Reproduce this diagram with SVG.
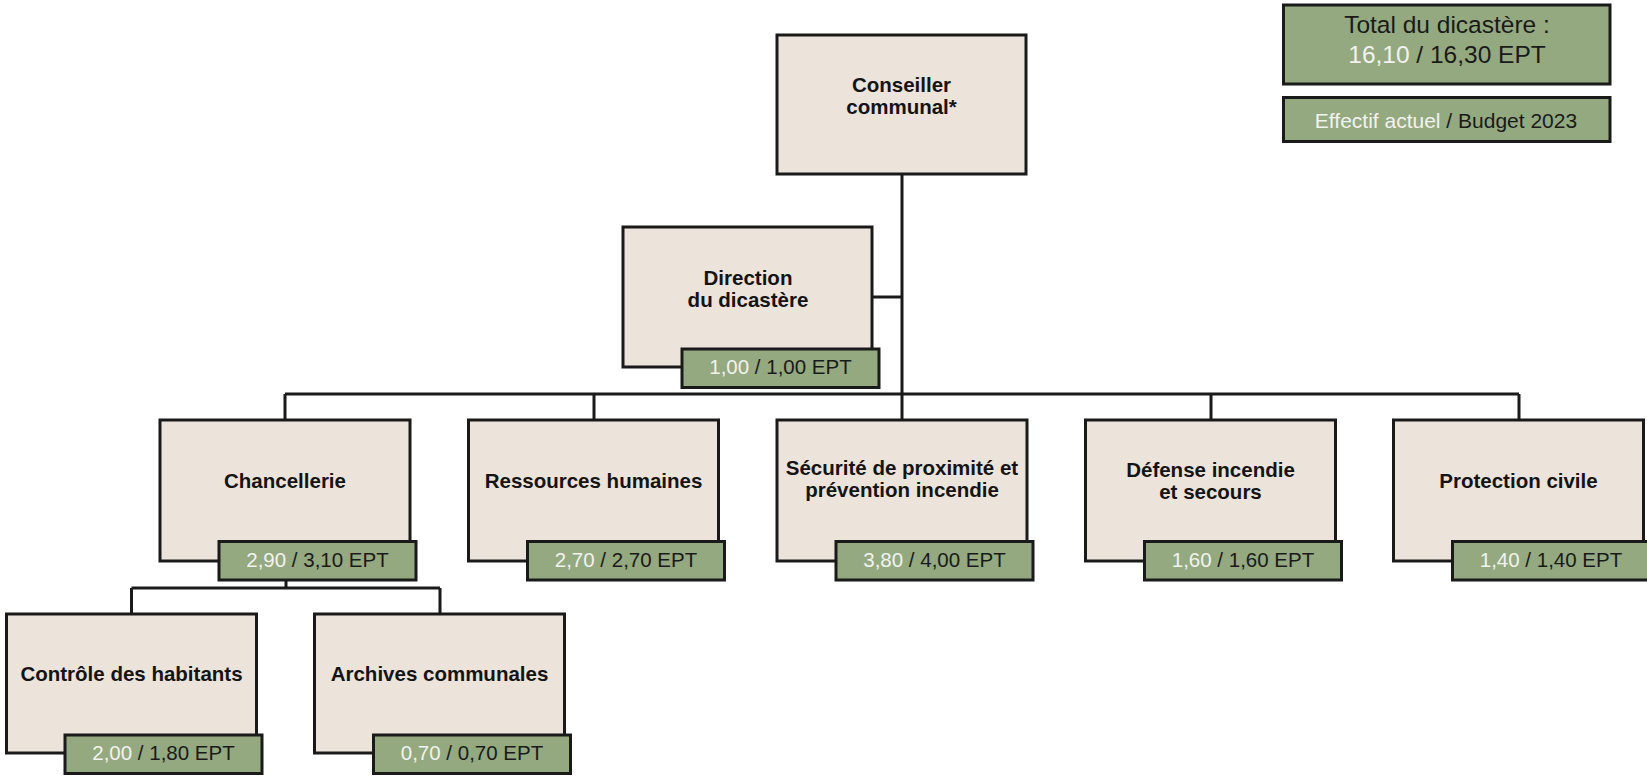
<svg xmlns="http://www.w3.org/2000/svg" width="1647" height="776" viewBox="0 0 1647 776">
<style>
.box{fill:#ece3da;stroke:#1a1a1a;stroke-width:3}
.ept{fill:#94a97f;stroke:#1a1a1a;stroke-width:3}
.lbl{font-family:"Liberation Sans",Arial,sans-serif;font-weight:bold;font-size:20.5px;fill:#141414;text-anchor:middle}
.num{font-family:"Liberation Sans",Arial,sans-serif;font-size:20.5px;fill:#1a1a1a;text-anchor:middle}
.lt{fill:#f2f2ee}
.conn{fill:none;stroke:#1a1a1a;stroke-width:3}
</style>
<rect width="1647" height="776" fill="#ffffff"/>
<g id="connectors" class="conn">
<path d="M902,174 V394"/>
<path d="M872,297 H902"/>
<path d="M285,394 H1519"/>
<path d="M285,394 V420 M594,394 V420 M902,394 V420 M1211,394 V420 M1519,394 V420"/>
<path d="M286,580 V588 M131.5,588 H440 M131.5,588 V614 M440,588 V614"/>
</g>
<g id="total">
<rect class="ept" x="1283.5" y="5" width="326.5" height="79"/>
<text class="num" x="1447" y="33" style="font-size:24.5px">Total du dicastère :</text>
<text class="num" x="1447" y="63" style="font-size:24.5px"><tspan class="lt">16,10</tspan> / 16,30 EPT</text>
</g>
<g id="legend">
<rect class="ept" x="1283.5" y="97.5" width="326.5" height="44"/>
<text class="num" x="1446" y="128" style="font-size:21px"><tspan class="lt">Effectif actuel</tspan> / Budget 2023</text>
</g>
<g id="conseiller">
<rect class="box" x="777" y="35" width="249" height="139"/>
<text class="lbl" x="901.5" y="92">Conseiller</text>
<text class="lbl" x="901.5" y="114">communal*</text>
</g>
<g id="direction">
<rect class="box" x="623" y="227" width="249" height="140"/>
<text class="lbl" x="748" y="285">Direction</text>
<text class="lbl" x="748" y="307">du dicastère</text>
<rect class="ept" x="682" y="349" width="197" height="38.5"/>
<text class="num" x="780.5" y="374"><tspan class="lt">1,00</tspan> / 1,00 EPT</text>
</g>
<g id="chancellerie">
<rect class="box" x="160" y="420" width="250" height="141"/>
<text class="lbl" x="285" y="488">Chancellerie</text>
<rect class="ept" x="219" y="541.5" width="197" height="38.5"/>
<text class="num" x="317.5" y="566.5"><tspan class="lt">2,90</tspan> / 3,10 EPT</text>
</g>
<g id="ressources-humaines">
<rect class="box" x="468.5" y="420" width="250" height="141"/>
<text class="lbl" x="593.5" y="488">Ressources humaines</text>
<rect class="ept" x="527.5" y="541.5" width="197" height="38.5"/>
<text class="num" x="626" y="566.5"><tspan class="lt">2,70</tspan> / 2,70 EPT</text>
</g>
<g id="securite">
<rect class="box" x="777" y="420" width="250" height="141"/>
<text class="lbl" x="902" y="475">Sécurité de proximité et</text>
<text class="lbl" x="902" y="497">prévention incendie</text>
<rect class="ept" x="836" y="541.5" width="197" height="38.5"/>
<text class="num" x="934.5" y="566.5"><tspan class="lt">3,80</tspan> / 4,00 EPT</text>
</g>
<g id="defense">
<rect class="box" x="1085.5" y="420" width="250" height="141"/>
<text class="lbl" x="1210.5" y="476.5">Défense incendie</text>
<text class="lbl" x="1210.5" y="498.5">et secours</text>
<rect class="ept" x="1144.5" y="541.5" width="197" height="38.5"/>
<text class="num" x="1243" y="566.5"><tspan class="lt">1,60</tspan> / 1,60 EPT</text>
</g>
<g id="protection-civile">
<rect class="box" x="1393.5" y="420" width="250" height="141"/>
<text class="lbl" x="1518.5" y="488">Protection civile</text>
<rect class="ept" x="1452.5" y="541.5" width="197" height="38.5"/>
<text class="num" x="1551" y="566.5"><tspan class="lt">1,40</tspan> / 1,40 EPT</text>
</g>
<g id="controle-habitants">
<rect class="box" x="6.5" y="614" width="250" height="139"/>
<text class="lbl" x="131.5" y="681">Contrôle des habitants</text>
<rect class="ept" x="65" y="735" width="197" height="38.5"/>
<text class="num" x="163.5" y="760"><tspan class="lt">2,00</tspan> / 1,80 EPT</text>
</g>
<g id="archives-communales">
<rect class="box" x="314.5" y="614" width="250" height="139"/>
<text class="lbl" x="439.5" y="681">Archives communales</text>
<rect class="ept" x="373.5" y="735" width="197" height="38.5"/>
<text class="num" x="472" y="760"><tspan class="lt">0,70</tspan> / 0,70 EPT</text>
</g>
</svg>
